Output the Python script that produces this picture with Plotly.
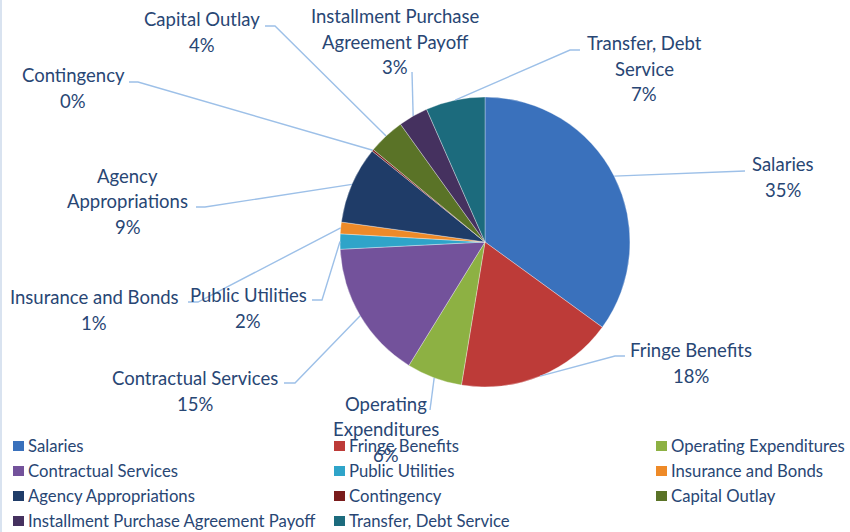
import math
import plotly.graph_objects as go

# ---------------- data ----------------
categories = ["Salaries", "Fringe Benefits", "Operating Expenditures", "Contractual Services",
              "Public Utilities", "Insurance and Bonds", "Agency Appropriations", "Contingency",
              "Capital Outlay", "Installment Purchase Agreement Payoff", "Transfer, Debt Service"]
shares = [35.0, 17.6, 6.2, 15.4, 1.7, 1.3, 8.6, 0.2, 4.1, 3.3, 6.6]
label_lines = [["Salaries"], ["Fringe Benefits"], ["Operating", "Expenditures"],
               ["Contractual Services"], ["Public Utilities"], ["Insurance and Bonds"],
               ["Agency", "Appropriations"], ["Contingency"], ["Capital Outlay"],
               ["Installment Purchase", "Agreement Payoff"], ["Transfer, Debt", "Service"]]

# ---------------- styles / layout ----------------
colors = ["#3A71BC", "#BD3B38", "#8DB143", "#73529B", "#2FA4C9", "#EE8A28",
          "#1F3C68", "#7A1C1C", "#5A7327", "#45315F", "#1C6B7D"]
W, H = 850, 532
CX, CY, R = 485, 242, 145    # pie centre / radius in window pixels
TEXT_COLOR = "#284674"
LEADER_COLOR = "#9DC0E8"
FRAME_COLOR = "#D9E3F0"
FONT = "Lato, 'Open Sans', sans-serif"
LINE_H = 25.5

# label block centres (px) and leader waypoints (px)
label_pos = [(783, 177), (691, 363), (386, 429), (195, 391), (248, 308), (94, 310),
             (128, 201), (73, 88), (202, 32), (395, 42), (644, 69)]
leader_pts = [[(745, 171)],
              [(615, 356), (625, 356)],
              [(430, 410)],
              [(295, 383), (284, 383)],
              [(322, 300), (312, 300)],
              [(198, 302), (188, 302)],
              [(205, 207), (196, 207)],
              [(138, 82), (129, 82)],
              [(275, 26), (265, 26)],
              [(412, 72)],
              [(570, 50), (580, 50)]]
legend_cols = [13, 334, 656]
legend_rows = [446, 471, 496, 521]


def px(x):
    return x / W


def py(y):
    return 1 - y / H


fig = go.Figure()
fig.add_trace(go.Pie(
    labels=categories, values=shares, sort=False, direction="clockwise", rotation=0,
    marker=dict(colors=colors, line=dict(color="rgba(255,255,255,0.55)", width=0.6)),
    textinfo="none", hoverinfo="label+percent", showlegend=False,
    domain=dict(x=[px(CX - R), px(CX + R)], y=[py(CY + R), py(CY - R)]),
))

total = sum(shares)
shapes = [dict(type="line", xref="paper", yref="paper", x0=px(1), x1=px(1), y0=0, y1=1,
               line=dict(color=FRAME_COLOR, width=2))]
annotations = []
cum = 0.0
for i, v in enumerate(shares):
    mid = (cum + v / 2) / total
    cum += v
    th = 2 * math.pi * mid
    sx = CX + R * math.sin(th)
    sy = CY - R * math.cos(th)
    pts = [(sx, sy)] + leader_pts[i]
    path = "M " + " L ".join(f"{px(x):.5f},{py(y):.5f}" for x, y in pts)
    shapes.append(dict(type="path", path=path, xref="paper", yref="paper",
                       line=dict(color=LEADER_COLOR, width=1.4)))
    pct = round(v / total * 100)
    lines = label_lines[i] + [f"{pct}%"]
    lx, ly = label_pos[i]
    n = len(lines)
    for j, t in enumerate(lines):
        yy = ly + (j - (n - 1) / 2) * LINE_H
        annotations.append(dict(x=px(lx), y=py(yy), xref="paper", yref="paper",
                                text=t, showarrow=False,
                                xanchor="center", yanchor="middle", align="center",
                                font=dict(family=FONT, size=18.5, color=TEXT_COLOR)))

# legend (3 columns, row-major like the original)
for i, name in enumerate(categories):
    cx = legend_cols[i % 3]
    cy = legend_rows[i // 3]
    shapes.append(dict(type="rect", xref="paper", yref="paper",
                       x0=px(cx), x1=px(cx + 11), y0=py(cy + 5), y1=py(cy - 5),
                       fillcolor=colors[i], line=dict(width=0)))
    annotations.append(dict(x=px(cx + 13), y=py(cy), xref="paper", yref="paper",
                            text=name, showarrow=False, xanchor="left", yanchor="middle",
                            font=dict(family=FONT, size=16.7, color=TEXT_COLOR)))

fig.update_layout(
    width=W, height=H, margin=dict(l=0, r=0, t=0, b=0),
    paper_bgcolor="white", plot_bgcolor="white",
    shapes=shapes, annotations=annotations, showlegend=False,
)
fig.write_html(
    "out.html",
    config={"displayModeBar": False},
    post_script="document.body.style.margin='0';document.body.style.overflow='hidden';",
)
